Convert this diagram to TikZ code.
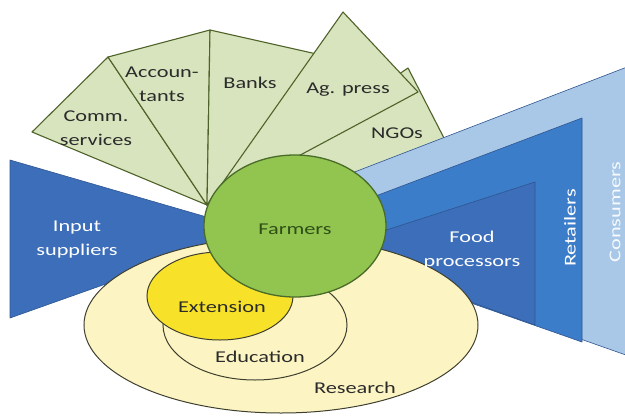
\documentclass[tikz,border=0pt]{standalone}
\usepackage{fontspec}
\setmainfont{Carlito}[FakeStretch=1.35]
\definecolor{fanfill}{HTML}{D8E4BD}
\definecolor{fanline}{HTML}{4F6228}
\definecolor{farmfill}{HTML}{92C450}
\definecolor{farmline}{HTML}{4A6B2A}
\definecolor{farmtext}{HTML}{2F4F17}
\definecolor{extfill}{HTML}{F7E229}
\definecolor{edufill}{HTML}{FCF4C2}
\definecolor{ellline}{HTML}{3F3F2F}
\definecolor{blueA}{HTML}{3C6EBA}
\definecolor{blueB}{HTML}{3C7DCA}
\definecolor{blueC}{HTML}{A9C8E7}
\definecolor{blueline}{HTML}{2F5590}
\definecolor{lbldark}{HTML}{2B2B2B}
\begin{document}
\begin{tikzpicture}[x=1pt,y=-1pt,
  fanpiece/.style={fill=fanfill, draw=fanline, line width=1.1pt, line join=round},
  bluepiece/.style={draw=blueline, line width=0.6pt, line join=round},
  ell/.style={draw=ellline, line width=1pt},
  lbl/.style={align=center, text=lbldark, font=\fontsize{16.5}{24}\selectfont, inner sep=0pt},
  wlbl/.style={lbl, text=white},
  vlbl/.style={lbl, text=white, rotate=90}]
\useasboundingbox (0,0) rectangle (625,416);
\coordinate (A) at (207,205);
% fan of service providers
\draw[fanpiece] (A) -- (408,68) -- (445,140) -- (300,200) -- cycle;
\draw[fanpiece] (A) -- (32,132) -- (108,57) -- cycle;
\draw[fanpiece] (A) -- (108,57) -- (210,30) -- cycle;
\draw[fanpiece] (A) -- (210,30) -- (330,57) -- cycle;
\draw[fanpiece] (A) -- (343,12) -- (418,92) -- cycle;
% value chain
\draw[bluepiece, fill=blueC] (300,193) -- (640,62) -- (640,360) -- (300,240) -- cycle;
\draw[bluepiece, fill=blueB] (320,217) -- (582,118) -- (582,342) -- (320,250) -- cycle;
\draw[bluepiece, fill=blueA] (340,245) -- (535,182) -- (535,325) -- (340,255) -- cycle;
\draw[bluepiece, fill=blueA] (10,160) -- (255,231) -- (10,318) -- cycle;
% knowledge system
\draw[ell, fill=edufill] (281,325) ellipse [x radius=197, y radius=88];
\draw[ell, fill=edufill] (255,325) ellipse [x radius=92, y radius=55];
\draw[ell, fill=extfill] (220,296) ellipse [x radius=73, y radius=44];
\draw[draw=farmline, line width=1.3pt, fill=farmfill] (295,226) ellipse [x radius=91, y radius=71];
% labels
\node[lbl] (comm) at (96,128) {Comm.\\services};
\node[lbl] (acc) at (162,84) {Accoun-\\tants};
\node[lbl] (banks) at (250,83) {Banks};
\node[lbl] (agpress) at (348,90) {Ag. press};
\node[lbl] (ngos) at (397,133) {NGOs};
\node[wlbl] (input) at (77,240) {Input\\suppliers};
\node[wlbl] (food) at (472,250) {Food\\processors};
\node[vlbl] (retail) at (570,228) {Retailers};
\node[vlbl, text=white!90!blueC] (cons) at (615,212) {Consumers};
\node[lbl, text=farmtext] (farmers) at (295,229) {Farmers};
\node[lbl] (ext) at (222,307) {Extension};
\node[lbl] (edu) at (260,357) {Education};
\node[lbl] (res) at (355,388) {Research};
\end{tikzpicture}
\end{document}
